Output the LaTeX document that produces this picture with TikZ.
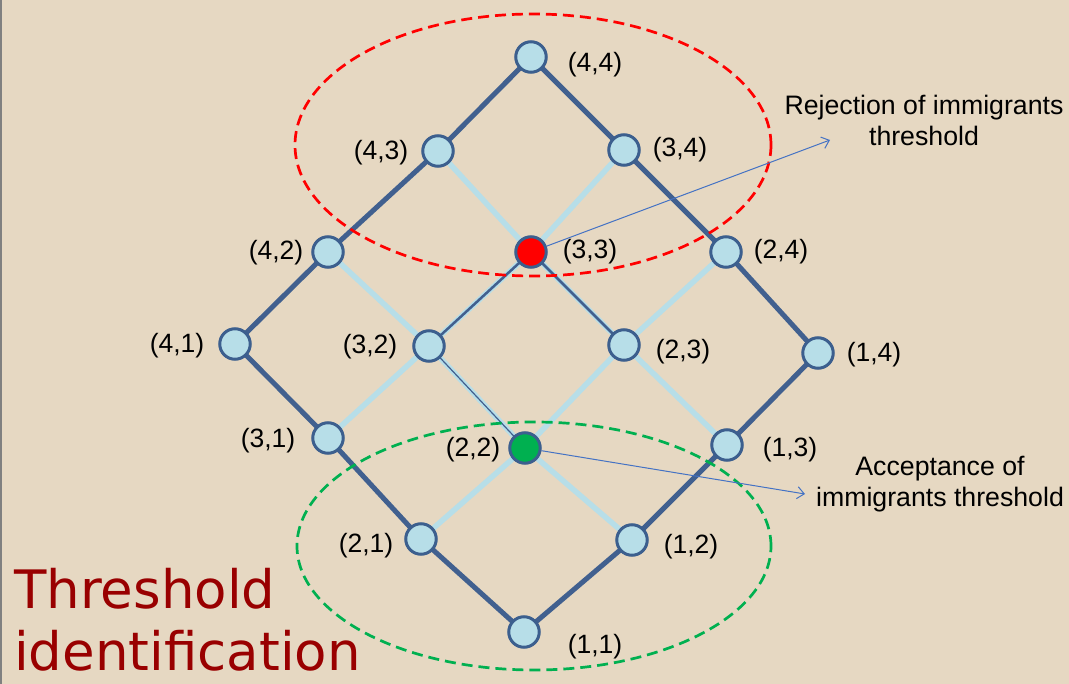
\documentclass[tikz,border=0pt]{standalone}
\usepackage{fontspec}
\setmainfont{Liberation Sans}
\newfontfamily\titlefont{DejaVu Sans}
\usetikzlibrary{arrows.meta}
\definecolor{bg}{HTML}{E6D8C2}
\definecolor{nodefill}{HTML}{B7DEE8}
\definecolor{nodeborder}{HTML}{3C5F8E}
\definecolor{darkedge}{HTML}{41608F}
\definecolor{lightedge}{HTML}{B7DEE8}
\definecolor{arrowblue}{HTML}{4472C4}
\definecolor{titlered}{HTML}{990000}
\definecolor{ellred}{HTML}{FF0000}
\definecolor{ellgreen}{HTML}{00B050}
\definecolor{nodegreen}{HTML}{00B050}
\tikzset{
  vert/.style={circle, draw=nodeborder, line width=3pt, fill=nodefill, minimum size=30.5pt, inner sep=0pt},
  lab/.style={inner sep=0pt, font=\fontsize{26.5}{30}\selectfont},
  outer/.style={draw=darkedge, line width=5pt},
  inner/.style={draw=lightedge, line width=5.5pt},
  thinedge/.style={draw=darkedge, line width=2.5pt},
  hair/.style={draw=darkedge, line width=1.2pt},
  callout/.style={draw=arrowblue, line width=1pt, -{Straight Barb[length=7pt,width=12pt]}},
  ellred/.style={draw=ellred, line width=2.7pt, dash pattern=on 11pt off 6pt},
  ellgreen/.style={draw=ellgreen, line width=2.7pt, dash pattern=on 11pt off 6pt},
  note/.style={align=center, inner sep=0pt, font=\fontsize{26.7}{31}\selectfont},
  title/.style={anchor=base west, inner sep=0pt, text=titlered, font=\titlefont\fontsize{53}{62}\selectfont}
}
\begin{document}
\begin{tikzpicture}[x=1pt,y=-1pt]
\fill[bg] (0,0) rectangle (1069,684);
\useasboundingbox (0,0) rectangle (1069,684);
\draw[gray, line width=1.5pt] (1,0) -- (1,684);

% vertex coordinates
\coordinate (p44) at (531,57);
\coordinate (p43) at (438,151);
\coordinate (p34) at (624,150);
\coordinate (p42) at (328,252);
\coordinate (p33) at (531,252);
\coordinate (p24) at (726,252);
\coordinate (p41) at (235,344);
\coordinate (p32) at (429,346);
\coordinate (p23) at (624,345);
\coordinate (p14) at (818,353);
\coordinate (p31) at (328,438);
\coordinate (p22) at (525,448);
\coordinate (p13) at (727,445);
\coordinate (p21) at (421,539);
\coordinate (p12) at (632,540);
\coordinate (p11) at (524,632);

% light inner edges
\path[inner] (p43) -- (p33) -- (p23) -- (p13);
\path[inner] (p42) -- (p32) -- (p22) -- (p12);
\path[inner] (p34) -- (p33) -- (p32) -- (p31);
\path[inner] (p24) -- (p23) -- (p22) -- (p21);

% outer dark edges
\path[outer, line join=round] (p44) -- (p43) -- (p42) -- (p41) -- (p31) -- (p21) -- (p11) -- (p12) -- (p13) -- (p14) -- (p24) -- (p34) -- cycle;

% thin dark edges
\path[thinedge] (p33) -- (p32);
\path[thinedge] (p33) -- (p23);
\path[hair] (p32) -- (p22);

% ellipses
\path[ellred] (533,145) ellipse [x radius=238pt, y radius=131pt];
\path[ellgreen] (534,546) ellipse [x radius=237pt, y radius=124pt];

% vertices
\node[vert] (n44) at (p44) {};
\node[vert] (n43) at (p43) {};
\node[vert] (n34) at (p34) {};
\node[vert] (n42) at (p42) {};
\node[vert, fill=red] (n33) at (p33) {};
\node[vert] (n24) at (p24) {};
\node[vert] (n41) at (p41) {};
\node[vert] (n32) at (p32) {};
\node[vert] (n23) at (p23) {};
\node[vert] (n14) at (p14) {};
\node[vert] (n31) at (p31) {};
\node[vert, fill=nodegreen] (n22) at (p22) {};
\node[vert] (n13) at (p13) {};
\node[vert] (n21) at (p21) {};
\node[vert] (n12) at (p12) {};
\node[vert] (n11) at (p11) {};

% labels
\node[lab] (l44) at (595,65) {(4,4)};
\node[lab] (l43) at (381,153) {(4,3)};
\node[lab] (l34) at (680,150) {(3,4)};
\node[lab] (l42) at (276,253) {(4,2)};
\node[lab] (l33) at (590,252) {(3,3)};
\node[lab] (l24) at (781,252) {(2,4)};
\node[lab] (l41) at (177,346) {(4,1)};
\node[lab] (l32) at (370,347) {(3,2)};
\node[lab] (l23) at (683,352) {(2,3)};
\node[lab] (l14) at (874,355) {(1,4)};
\node[lab] (l31) at (268,441) {(3,1)};
\node[lab] (l22) at (473,450) {(2,2)};
\node[lab] (l13) at (790,450) {(1,3)};
\node[lab] (l21) at (366,546) {(2,1)};
\node[lab] (l12) at (691,547) {(1,2)};
\node[lab] (l11) at (595,647) {(1,1)};

% callouts
\node[note] (rej) at (924,120) {Rejection of immigrants\\threshold};
\node[note] (acc) at (940,484) {Acceptance of\\immigrants threshold};
\coordinate (rejtip) at (830,140);
\coordinate (acctip) at (805,494);
\draw[callout] (n33) -- (rejtip);
\draw[callout] (n22) -- (acctip);

% title
\node[title] (t1) at (14,608) {Threshold};
\node[title] (t2) at (14,670) {identification};
\end{tikzpicture}
\end{document}
